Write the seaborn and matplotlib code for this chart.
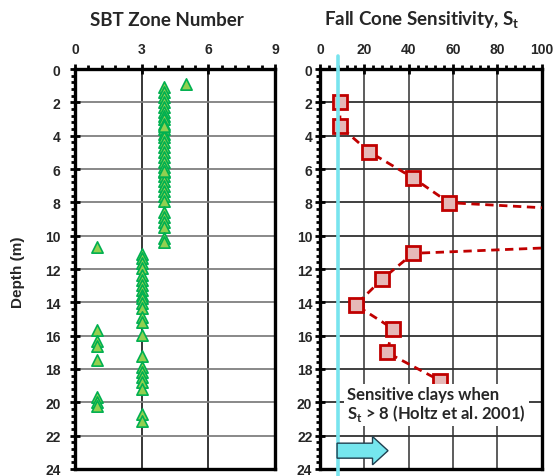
import matplotlib
matplotlib.use("Agg")
import matplotlib.pyplot as plt
from matplotlib.ticker import MultipleLocator
from matplotlib.patches import FancyArrow
import seaborn as sns
import pandas as pd

sns.set_style("white")
plt.rcParams["font.family"] = ["Liberation Sans", "DejaVu Sans"]
plt.rcParams["font.weight"] = "bold"

# SBT zone number vs depth (m)
sbt_zone = [5,
            4, 4, 4, 4, 4, 4, 4, 4, 4, 4, 4, 4, 4, 4, 4, 4, 4, 4, 4, 4, 4, 4, 4, 4, 4,
            4, 4, 4, 4, 4, 4, 4, 4,
            1,
            3, 3, 3, 3, 3, 3, 3, 3, 3, 3, 3, 3, 3, 3,
            1, 3, 1, 1, 1, 3,
            3, 3, 3, 3, 3, 1, 1, 1, 3, 3]
sbt_depth = [0.9,
             1.1, 1.4, 1.7, 2.0, 2.3, 2.6, 2.8, 3.0, 3.3, 3.6, 3.9, 4.1, 4.4, 4.7, 5.0,
             5.3, 5.6, 5.9, 6.2, 6.4, 6.7, 7.0, 7.3, 7.6, 7.9,
             8.55, 8.85, 9.15, 9.45, 10.15, 10.4, 6.1, 3.4,
             10.7,
             11.1, 11.35, 11.65, 11.95, 12.35, 12.65, 12.95, 13.25, 13.55, 13.75, 14.05,
             14.35, 14.85, 15.15,
             15.65, 15.95, 16.3, 16.6, 17.45, 17.2,
             17.9, 18.2, 18.5, 18.8, 19.2, 19.65, 19.95, 20.2, 20.7, 21.1]

# Fall cone sensitivity vs depth (m); the sample near 9.7 m plots off scale
st_value = [9.0, 9.0, 22.1, 42.1, 58.2, 290.0, 42.1, 28.1, 16.1, 33.1, 30.1, 54.2]
st_depth = [1.96, 3.44, 4.96, 6.54, 8.02, 9.7, 11.06, 12.6, 14.16, 15.6, 17.0, 18.7]

st_threshold = 8

sbt = pd.DataFrame({"zone": sbt_zone, "depth": sbt_depth})
fcs = pd.DataFrame({"st": st_value, "depth": st_depth})

W, H = 554, 477
fig = plt.figure(figsize=(W / 100, H / 100), dpi=100)
ax1 = fig.add_axes([75 / W, 7 / H, 200 / W, 400 / H])
ax2 = fig.add_axes([320 / W, 7 / H, 221.6 / W, 400 / H])


def style_axis(ax, xmax, xmajor, xminor, vcol, hcol, ypad):
    ax.set_xlim(0, xmax)
    ax.set_ylim(24, 0)
    ax.xaxis.tick_top()
    ax.xaxis.set_major_locator(MultipleLocator(xmajor))
    ax.xaxis.set_minor_locator(MultipleLocator(xminor))
    ax.yaxis.set_major_locator(MultipleLocator(2))
    ax.yaxis.set_minor_locator(MultipleLocator(0.4))
    ax.tick_params(which="major", direction="inout", length=7, width=2,
                   color="black", labelsize=10)
    ax.tick_params(axis="x", which="major", pad=6)
    ax.tick_params(axis="y", which="major", pad=ypad)
    ax.tick_params(which="minor", direction="out", length=3, width=2, color="black")
    ax.tick_params(axis="x", which="both", top=True, bottom=False)
    ax.tick_params(axis="y", which="both", left=True, right=False)
    for x in range(xmajor, xmax, xmajor):
        ax.axvline(x, color=vcol, lw=1.1, zorder=0.5)
    for y in range(2, 24, 2):
        ax.axhline(y, color=hcol, lw=1.3, zorder=0.5)
    for s in ax.spines.values():
        s.set_visible(True)
        s.set_color("black")
        s.set_linewidth(2.4)
    ax.set_xlabel("")
    ax.set_ylabel("")


# Left panel: SBT zones
sns.scatterplot(data=sbt, x="zone", y="depth", ax=ax1, marker="^", s=66,
                color="#92D050", edgecolor="#00B050", linewidth=1.2, zorder=3,
                clip_on=False)
style_axis(ax1, 9, 3, 0.6, "black", "#7F7F7F", 7)

# Right panel: fall cone sensitivity
sns.lineplot(data=fcs, x="st", y="depth", ax=ax2, sort=False, estimator=None,
             color="#C00000", lw=2, dashes=False, zorder=3)
ax2.lines[-1].set_linestyle((0, (3, 2)))
ax2.plot(fcs["st"], fcs["depth"], ls="none", marker="s", ms=9.5,
         mfc="#E6B8B7", mec="#C00000", mew=2, zorder=4)
style_axis(ax2, 100, 20, 4, "#303030", "#303030", 2)

ax2.axvline(st_threshold, ymin=-0.0175, ymax=1.0325, color="#78E4EE",
            lw=2.6, clip_on=False, zorder=5)

ax2.text(12.3, 19.0, "Sensitive clays when\nS$_\\mathregular{t}$ > 8 (Holtz et al. 2001)",
         fontsize=12, fontweight="bold", family=["Lato", "DejaVu Sans"],
         va="top", ha="left", linespacing=1.0, zorder=6,
         bbox=dict(fc="white", ec="none", pad=2.5))

ax2.add_patch(FancyArrow(7.7, 22.9, 23.0, 0, width=0.9, head_width=1.7,
                         head_length=7.0, length_includes_head=True,
                         fc="#75E6EE", ec="#1F3F4F", lw=1, zorder=6))

title_font = dict(fontsize=13.5, fontweight="bold", family=["Lato", "DejaVu Sans"],
                  ha="center", va="center")
fig.text(167 / W, 1 - 20 / H, "SBT Zone Number", **title_font)
fig.text(422 / W, 1 - 20 / H, "Fall Cone Sensitivity, S$_\\mathregular{t}$", **title_font)
fig.text(18 / W, 1 - 272 / H, "Depth (m)", rotation=90, fontsize=11,
         fontweight="bold", ha="center", va="center")

fig.savefig("out.png", dpi=100)
